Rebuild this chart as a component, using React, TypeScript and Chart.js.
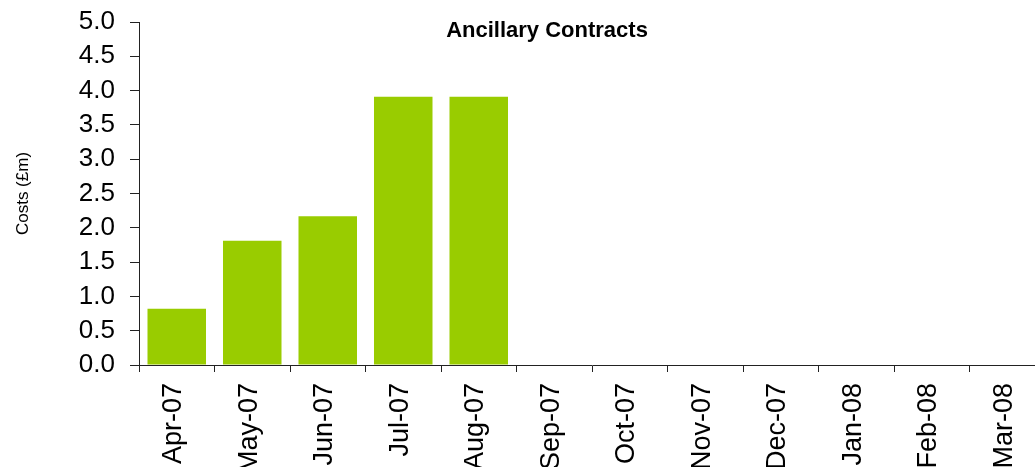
import React, { useEffect, useRef } from "react";
import { Chart, registerables } from "chart.js";

Chart.register(...registerables);

const months = ["Apr-07", "May-07", "Jun-07", "Jul-07", "Aug-07", "Sep-07", "Oct-07", "Nov-07", "Dec-07", "Jan-08", "Feb-08", "Mar-08"];
const costs = [0.82, 1.81, 2.17, 3.91, 3.91, null, null, null, null, null, null, null];
const chartTitle = "Ancillary Contracts";
const yAxisTitle = "Costs (£m)";

const FONT = "'Liberation Sans', Arial, sans-serif";

export default function App() {
  const ref = useRef<HTMLCanvasElement | null>(null);
  useEffect(() => {
    if (!ref.current) return;
    const titlePlugin = {
      id: "overlayTitle",
      afterDraw(chart: any) {
        const ctx = chart.ctx;
        ctx.save();
        ctx.font = `bold 22px ${FONT}`;
        ctx.fillStyle = "#000";
        ctx.textAlign = "center";
        ctx.textBaseline = "alphabetic";
        ctx.fillText(chartTitle, 547, 37);
        ctx.restore();
      },
    };
    const chart = new Chart(ref.current, {
      type: "bar",
      data: {
        labels: months,
        datasets: [
          {
            data: costs as any,
            backgroundColor: "#99CC00",
            borderWidth: 0,
            categoryPercentage: 1,
            barPercentage: 0.775,
          },
        ],
      },
      plugins: [titlePlugin],
      options: {
        responsive: false,
        animation: false,
        layout: { padding: { top: 22, left: 0, right: 0, bottom: 0 } },
        plugins: { legend: { display: false }, tooltip: { enabled: false }, title: { display: false } },
        scales: {
          x: {
            offset: true,
            grid: { offset: true, drawOnChartArea: false, drawTicks: true, tickLength: 7, color: "#222", lineWidth: 1 },
            border: { display: true, color: "#222", width: 1 },
            ticks: {
              maxRotation: 90,
              minRotation: 90,
              autoSkip: false,
              padding: 11,
              labelOffset: -3,
              color: "#000",
              font: { family: FONT, size: 27 },
            },
            afterFit: (scale: any) => {
              scale.height = 102;
              scale.paddingLeft = 0;
              scale.paddingRight = 0;
            },
          },
          y: {
            min: 0,
            max: 5,
            grid: { drawOnChartArea: false, drawTicks: true, tickLength: 9, color: "#222", lineWidth: 1 },
            border: { display: true, color: "#222", width: 1 },
            ticks: {
              stepSize: 0.5,
              padding: 15,
              color: "#000",
              font: { family: FONT, size: 26 },
              callback: (v: any) => Number(v).toFixed(1),
            },
            title: {
              display: true,
              text: yAxisTitle,
              color: "#000",
              font: { family: FONT, size: 17 },
              padding: { top: 13, bottom: 0 },
            },
            afterFit: (scale: any) => {
              scale.width = 139;
              scale.paddingTop = 0;
              scale.paddingBottom = 0;
            },
          },
        },
      },
    });
    return () => chart.destroy();
  }, []);
  return (
    <div style={{ position: "absolute", left: 0, top: 0, width: 1035, height: 467, overflow: "hidden", background: "#fff" }}>
      <canvas ref={ref} width={1045} height={467} style={{ width: 1045, height: 467, display: "block" }} />
    </div>
  );
}
